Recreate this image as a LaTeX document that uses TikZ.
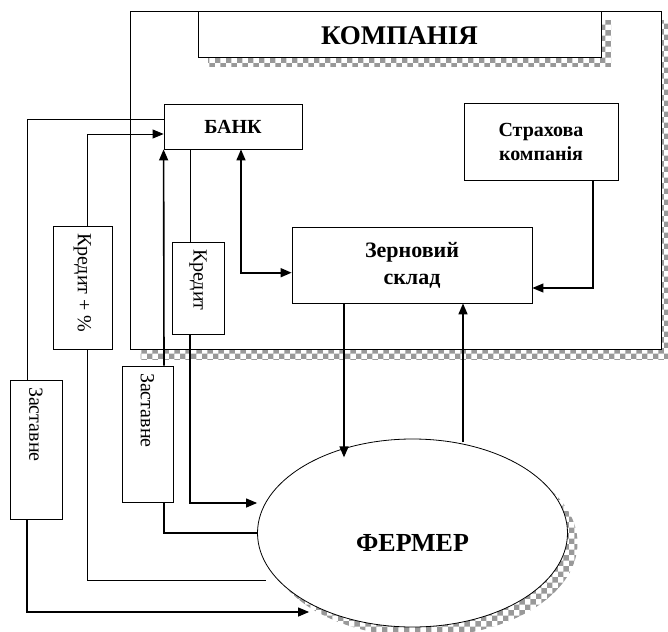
\documentclass[tikz,border=0pt]{standalone}
\usepackage{fontspec}
\setmainfont{Liberation Serif}
\usetikzlibrary{positioning,arrows.meta}
\usetikzlibrary{shapes.geometric}
\usetikzlibrary{shadows}
\usetikzlibrary{patterns}

\tikzstyle{dshadow} = [drop shadow={shadow xshift=10pt,shadow yshift=-10pt,opacity=1,fill=none,pattern=checkerboard,pattern color=gray!80}]
\tikzstyle{block} = [draw, line width=0.8pt, fill=white, inner sep=0pt, align=center]
\tikzstyle{vlabel} = [block, inner xsep=0pt, inner ysep=7pt, text height=0pt, font=\fontsize{20}{24}\selectfont]
\tikzstyle{thinline} = [line width=0.8pt]
\tikzstyle{thickline} = [line width=1.6pt]
\tikzstyle{midline} = [line width=1.2pt]
\tikzstyle{tip} = [-{Triangle[length=11pt,width=9pt]}]

\begin{document}
\begin{tikzpicture}[x=1pt,y=-1pt]
\useasboundingbox (0,0) rectangle (668,631);

% company frame and its title
\node[block, dshadow, minimum width=531pt, minimum height=338pt] (company) at (396,180) {};
\node[block, dshadow, minimum width=403pt, minimum height=46pt, text height=22pt,
      font=\bfseries\fontsize{27}{32}\selectfont] (title) at (399.5,34) {КОМПАНІЯ};

% boxes inside the company
\node[block, minimum width=138pt, minimum height=45pt,
      font=\bfseries\fontsize{20}{24}\selectfont] (bank) at (233,126.5) {БАНК};
\node[block, minimum width=154pt, minimum height=77pt,
      font=\bfseries\fontsize{20}{24}\selectfont] (insur) at (541,142) {Страхова\\компанія};
\node[block, minimum width=240pt, minimum height=76pt,
      font=\bfseries\fontsize{22}{27}\selectfont] (store) at (412,265) {Зерновий\\склад};

% vertical labels
\node[vlabel, minimum width=59pt, minimum height=123pt, text depth=109pt] (credplus) at (82.5,287.5) {\rotatebox{-90}{Кредит + \%}};
\node[vlabel, minimum width=52pt, minimum height=92pt, text depth=78pt] (cred) at (198,288) {\rotatebox{-90}{Кредит}};
\node[vlabel, minimum width=52pt, minimum height=139pt, text depth=125pt] (pledgeL) at (36,449.5) {\rotatebox{-90}{Заставне}};
\node[vlabel, minimum width=51pt, minimum height=136pt, text depth=122pt] (pledgeM) at (147.5,434) {\rotatebox{-90}{Заставне}};

% the farmer
\node[ellipse, block, dshadow, minimum width=310pt, minimum height=188pt, text height=37pt, text depth=0pt,
      font=\bfseries\fontsize{26}{31}\selectfont] (farmer) at (412.5,533) {ФЕРМЕР};

% connectors
\draw[thinline] ([xshift=-9pt]pledgeL.north) |- ([yshift=7.5pt]bank.west);
\draw[midline,tip] ([xshift=-9pt]pledgeL.south) |- ([xshift=52pt,yshift=-79pt]farmer.west);
\draw[thinline,tip] ([xshift=4.5pt]credplus.north) |- ([yshift=-7.5pt]bank.west);
\draw[thinline] ([xshift=4.5pt]credplus.south) |- ([xshift=9pt,yshift=-47pt]farmer.west);
\draw[thickline,tip] ([xshift=16.5pt]pledgeM.north) -- (bank.south west);
\draw[midline] ([xshift=16.5pt]pledgeM.south) |- (farmer.west);
\draw[thinline] ([xshift=-43pt]bank.south) -- ([xshift=-8pt]cred.north);
\draw[midline,tip] ([xshift=-8pt]cred.south) |- ([yshift=30pt]farmer.west);
\draw[thickline,{Triangle[length=11pt,width=9pt]}-{Triangle[length=11pt,width=9pt]}] ([xshift=8pt]bank.south) |- ([yshift=-7.7pt]store.west);
\draw[midline,tip] ([xshift=52pt]insur.south) |- ([yshift=-23pt]store.east);
\draw[thickline,tip] ([xshift=-68pt]store.south) -- ++(0,154);
\draw[thickline,tip] ([xshift=51pt]store.south) ++(0,139) -- ([xshift=51pt]store.south);

\end{tikzpicture}
\end{document}
